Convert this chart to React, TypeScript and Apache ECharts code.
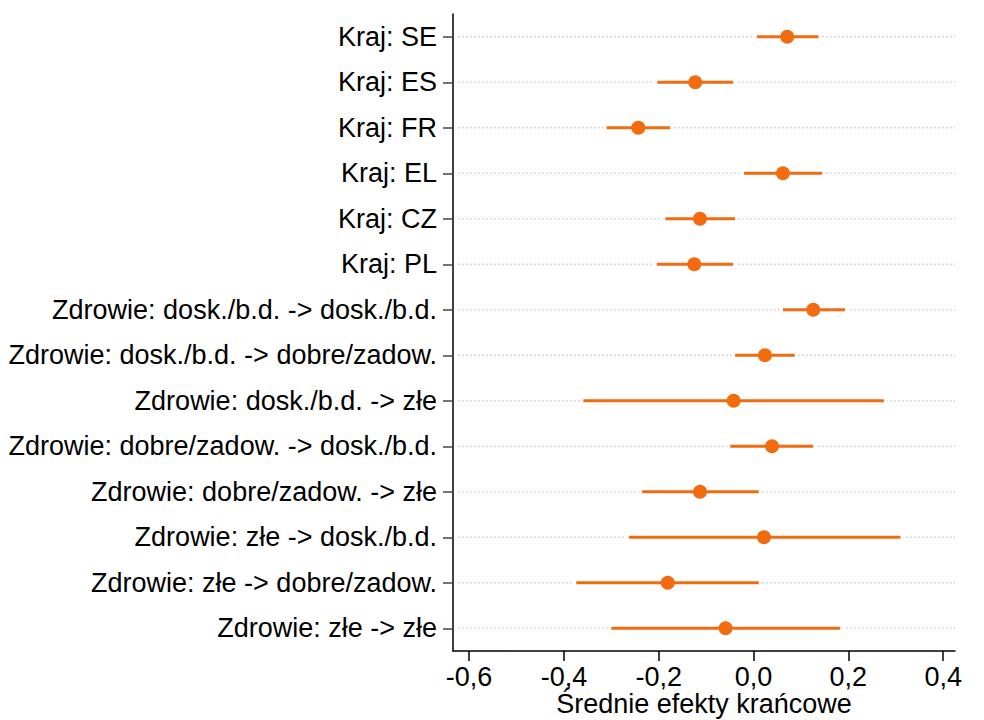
import React, { useEffect, useRef } from "react";
import * as echarts from "echarts";

const categories = [
  "Kraj: SE",
  "Kraj: ES",
  "Kraj: FR",
  "Kraj: EL",
  "Kraj: CZ",
  "Kraj: PL",
  "Zdrowie: dosk./b.d. -> dosk./b.d.",
  "Zdrowie: dosk./b.d. -> dobre/zadow.",
  "Zdrowie: dosk./b.d. -> złe",
  "Zdrowie: dobre/zadow. -> dosk./b.d.",
  "Zdrowie: dobre/zadow. -> złe",
  "Zdrowie: złe -> dosk./b.d.",
  "Zdrowie: złe -> dobre/zadow.",
  "Zdrowie: złe -> złe",
];
const means = [0.071, -0.123, -0.243, 0.062, -0.113, -0.125, 0.126, 0.024, -0.042, 0.039, -0.113, 0.022, -0.181, -0.059];
const lower = [0.007, -0.203, -0.31, -0.02, -0.186, -0.204, 0.062, -0.039, -0.359, -0.049, -0.235, -0.263, -0.374, -0.3];
const upper = [0.137, -0.043, -0.176, 0.145, -0.039, -0.043, 0.193, 0.087, 0.275, 0.126, 0.011, 0.31, 0.011, 0.183];
const xTicks = [-0.6, -0.4, -0.2, 0, 0.2, 0.4];
const xTitle = "Średnie efekty krańcowe";

const FONT = "Arial, 'Liberation Sans', Helvetica, sans-serif";
const ORANGE = "#f26b0f";
const FS = 27;

export default function App() {
  const ref = useRef<HTMLDivElement>(null);
  useEffect(() => {
    if (!ref.current) return;
    const chart = echarts.init(ref.current, null, { renderer: "svg" });
    const data = categories.map((_, i) => [i, means[i], lower[i], upper[i]]);
    chart.setOption({
      animation: false,
      backgroundColor: "#ffffff",
      grid: { left: 453, right: 29, top: 14, bottom: 69, containLabel: false, outerBoundsMode: "none" },
      xAxis: {
        type: "value",
        min: -0.634,
        max: 0.425,
        name: xTitle,
        nameLocation: "middle",
        nameGap: 43,
        nameMoveOverlap: false,
        nameTextStyle: { fontFamily: FONT, fontSize: FS, color: "#000", lineHeight: 20 },
        axisLine: { show: true, onZero: false, lineStyle: { color: "#000", width: 1.5 } },
        axisTick: { show: true, length: 10, customValues: xTicks, lineStyle: { color: "#000", width: 1.5 } },
        axisLabel: {
          customValues: xTicks,
          margin: 15,
          fontFamily: FONT,
          fontSize: FS,
          lineHeight: 22,
          color: "#000",
          formatter: (v: number) => v.toFixed(1).replace(".", ","),
        },
        splitLine: { show: false },
      },
      yAxis: {
        type: "category",
        inverse: true,
        data: categories,
        axisLine: { show: true, onZero: false, lineStyle: { color: "#000", width: 1.5 } },
        axisTick: { show: true, alignWithLabel: true, length: 10, lineStyle: { color: "#444", width: 1.5 } },
        axisLabel: { margin: 16, fontFamily: FONT, fontSize: FS, color: "#000" },
        splitLine: { show: false },
      },
      series: [
        {
          type: "custom",
          encode: { x: [1, 2, 3], y: 0 },
          data,
          renderItem: (params: any, api: any) => {
            const idx = api.value(0);
            const m = api.coord([api.value(1), idx]);
            const lo = api.coord([api.value(2), idx]);
            const hi = api.coord([api.value(3), idx]);
            const cs = params.coordSys;
            return {
              type: "group",
              children: [
                {
                  type: "line",
                  shape: { x1: cs.x + 5, y1: m[1], x2: cs.x + cs.width, y2: m[1] },
                  style: { stroke: "#cbcbcb", lineWidth: 1.5, lineDash: [1.5, 2.5] },
                },
                {
                  type: "line",
                  shape: { x1: lo[0] - 3, y1: m[1], x2: hi[0] + 3, y2: m[1] },
                  style: { stroke: "#ffffff", lineWidth: 3.5 },
                },
                {
                  type: "line",
                  shape: { x1: lo[0], y1: m[1], x2: hi[0], y2: m[1] },
                  style: { stroke: ORANGE, lineWidth: 2.8 },
                },
                {
                  type: "circle",
                  shape: { cx: m[0], cy: m[1], r: 7 },
                  style: { fill: ORANGE },
                },
              ],
            };
          },
        },
      ],
    });
    return () => chart.dispose();
  }, []);
  return <div ref={ref} style={{ width: 984, height: 720, position: "absolute", left: 0, top: 0 }} />;
}
